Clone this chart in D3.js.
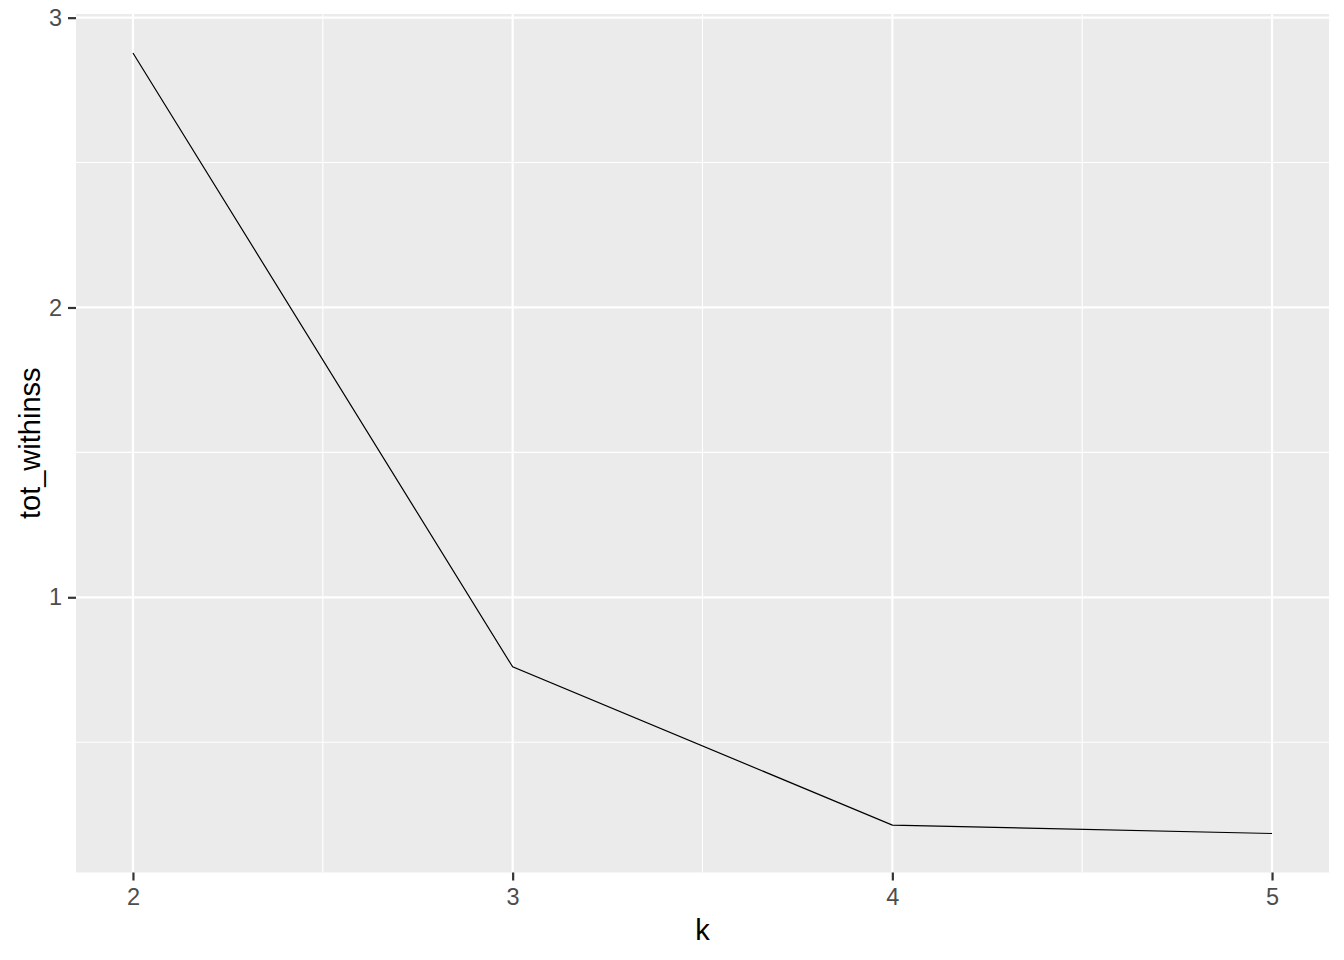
<!DOCTYPE html>
<html><head><meta charset="utf-8">
<script src="https://cdn.jsdelivr.net/npm/d3@7"></script>
<style>body{margin:0;background:#fff;} svg{display:block;font-family:"Liberation Sans",Arial,sans-serif;}</style>
</head><body>
<script>
const kValues = [2, 3, 4, 5];
const totWithinss = [2.878, 0.760, 0.214, 0.185];
const xTicks = [2, 3, 4, 5];
const yTicks = [1, 2, 3];
const xMinor = [2.5, 3.5, 4.5];
const yMinor = [0.5, 1.5, 2.5];

const W = 1344, H = 960;
const panel = {left: 76, right: 1329, top: 14, bottom: 872.5};
const svg = d3.select("body").append("svg").attr("width", W).attr("height", H);

const xr = d3.extent(kValues), xpad = (xr[1]-xr[0])*0.05;
const yr = d3.extent(totWithinss), ypad = (yr[1]-yr[0])*0.05;
const x = d3.scaleLinear().domain([xr[0]-xpad, xr[1]+xpad]).range([panel.left, panel.right]);
const y = d3.scaleLinear().domain([yr[0]-ypad, yr[1]+ypad]).range([panel.bottom, panel.top]);

svg.append("rect").attr("x", panel.left).attr("y", panel.top)
  .attr("width", panel.right-panel.left).attr("height", panel.bottom-panel.top).attr("fill", "#ebebeb");

const g = svg.append("g");
g.selectAll(".ymin").data(yMinor).join("line")
  .attr("x1", panel.left).attr("x2", panel.right).attr("y1", d=>y(d)).attr("y2", d=>y(d))
  .attr("stroke", "#fff").attr("stroke-width", 1.1);
g.selectAll(".xmin").data(xMinor).join("line")
  .attr("y1", panel.top).attr("y2", panel.bottom).attr("x1", d=>x(d)).attr("x2", d=>x(d))
  .attr("stroke", "#fff").attr("stroke-width", 1.1);
g.selectAll(".ymaj").data(yTicks).join("line")
  .attr("x1", panel.left).attr("x2", panel.right).attr("y1", d=>y(d)).attr("y2", d=>y(d))
  .attr("stroke", "#fff").attr("stroke-width", 2.2);
g.selectAll(".xmaj").data(xTicks).join("line")
  .attr("y1", panel.top).attr("y2", panel.bottom).attr("x1", d=>x(d)).attr("x2", d=>x(d))
  .attr("stroke", "#fff").attr("stroke-width", 2.2);

const line = d3.line().x((d,i)=>x(kValues[i])).y(d=>y(d));
svg.append("path").datum(totWithinss).attr("d", line)
  .attr("fill", "none").attr("stroke", "#000").attr("stroke-width", 1.2);

const xAxis = svg.append("g").attr("transform", `translate(0,${panel.bottom})`)
  .call(d3.axisBottom(x).tickValues(xTicks).tickSize(8).tickPadding(8).tickFormat(d3.format("d")));
const yAxis = svg.append("g").attr("transform", `translate(${panel.left},0)`)
  .call(d3.axisLeft(y).tickValues(yTicks).tickSize(8).tickPadding(6).tickFormat(d3.format("d")));
[xAxis, yAxis].forEach(a => {
  a.attr("font-size", 23.5).attr("font-family", '"Liberation Sans",Arial,sans-serif');
  a.select(".domain").remove();
  a.selectAll(".tick line").attr("stroke", "#333").attr("stroke-width", 2.2);
  a.selectAll(".tick text").attr("fill", "#4d4d4d");
});

svg.append("text").attr("x", (panel.left+panel.right)/2).attr("y", 940)
  .attr("text-anchor", "middle").attr("fill", "#000").attr("font-size", 29).text("k");
svg.append("text").attr("transform", `translate(40,${(panel.top+panel.bottom)/2}) rotate(-90)`)
  .attr("text-anchor", "middle").attr("fill", "#000").attr("font-size", 29).text("tot_withinss");
</script>
</body></html>
